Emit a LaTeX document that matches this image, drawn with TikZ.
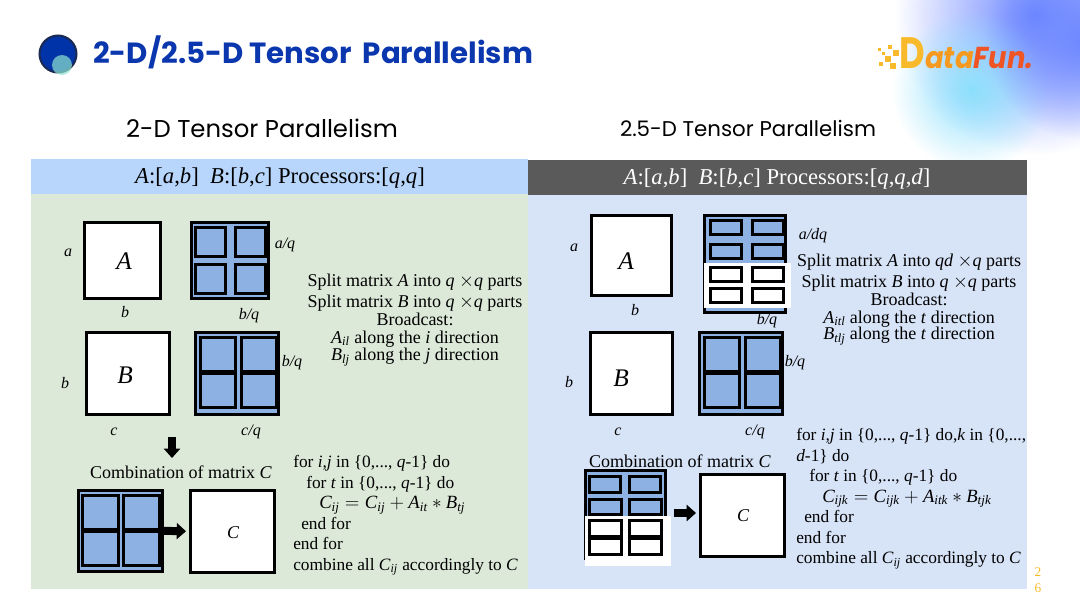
\documentclass[tikz,border=0pt]{standalone}
\usepackage{amsmath}
\usepackage{fontspec}
\setmainfont{Liberation Serif}
\newfontfamily\headfont{Poppins}
\usepackage{xcolor}
\usetikzlibrary{positioning,arrows.meta,fadings,calc}

\definecolor{titleblue}{HTML}{0A36AE}
\definecolor{dotdark}{HTML}{0033A8}
\definecolor{dotring}{HTML}{1C2A52}
\definecolor{dotteal}{HTML}{8FE3D0}
\definecolor{panelgreen}{HTML}{DCE9D9}
\definecolor{panelblue}{HTML}{D7E3F7}
\definecolor{headblue}{HTML}{B8D6FC}
\definecolor{headgrey}{HTML}{5A5A5A}
\definecolor{cellblue}{HTML}{8EB1E4}
\definecolor{pageyellow}{HTML}{F8B92B}
\definecolor{logoamber}{HTML}{F59A1E}
\definecolor{logored}{HTML}{EE5424}
\definecolor{blobblue}{HTML}{6C86FF}
\definecolor{blobcyan}{HTML}{8CE0FC}

\newcommand{\px}{0.75pt}
\newcommand{\vv}[1]{\textit{#1}}
\newcommand{\sbs}[2]{$\textit{#1}_{\textit{#2}}$}
\newcommand{\eqfont}{\fontsize{14}{15.4}\selectfont}
\tikzfading[name=blobfade, inner color=transparent!0, middle color=transparent!0,
            outer color=transparent!100]

\begin{document}
\begin{tikzpicture}[
  x=0.75pt, y=-0.75pt,
  every node/.style={font=\fontsize{13.5}{15.4}\selectfont, inner sep=0pt},
  mat/.style={draw, line width=2pt, fill=white, anchor=north west},
  gridbox/.style={draw, line width=2pt, fill=cellblue, anchor=north west},
  cell/.style={draw, line width=1.9pt, fill=cellblue, anchor=north west},
  wcell/.style={cell, fill=white},
  band/.style={fill=white, anchor=north west},
  lab/.style={font=\fontsize{12}{14}\selectfont\itshape},
  big/.style={font=\fontsize{19}{22}\selectfont\itshape},
  head/.style={font=\fontsize{17}{20}\selectfont},
  sub/.style={font=\headfont\fontsize{#1}{22}\selectfont},
  code/.style={align=left, anchor=north west, font=\fontsize{13}{15.4}\selectfont},
  blockarr/.style={line width=6pt, -{Triangle[length=7pt,width=12pt]}}
]
\useasboundingbox (0,0) rectangle (1080,607);

%% --- Corner glow and logo -------------------------------------
\begin{scope}
  \clip (0,0) rectangle (1080,607);
  \fill[blobblue, path fading=blobfade] (1035,15) circle (140);
  \fill[blobcyan, path fading=blobfade] (972,90) circle (80);
  \fill[blobblue, path fading=blobfade] (1085,40) circle (100);
\end{scope}
\foreach \dx/\dy/\ds in {879/49/1.5, 890/47/2, 883/53/1.5, 896/53/3, 888/59/3, 881/64/2, 893/66/3}
  \fill[pageyellow] (\dx-\ds,\dy-\ds) rectangle (\dx+\ds,\dy+\ds);
\node[anchor=base west, xscale=.8, text=pageyellow,
      font=\headfont\bfseries\fontsize{33}{33}\selectfont] (logoD) at (899,68) {D};
\node[anchor=base west, yscale=1.1,
      font=\headfont\bfseries\itshape\fontsize{20.6}{21}\selectfont] (logo) at (925,68)
  {\textcolor{logoamber}{ata}\textcolor{logored}{Fun.}};

%% --- Title ----------------------------------------------------
\fill[dotdark, draw=dotring, line width=1.5pt] (58,54) circle (18.5);
\fill[dotteal, opacity=.7] (62,65) circle (10);
\node[anchor=west, text=titleblue, font=\headfont\bfseries\fontsize{21.9}{26}\selectfont] (title) at (93,52)
  {2-D/2.5-D Tensor\, Parallelism};
\node[sub=18.25] (subL) at (262,128) {2-D Tensor Parallelism};
\node[sub=16] (subR) at (748,128) {2.5-D Tensor Parallelism};

%% --- Panels ---------------------------------------------------
\fill[headblue]   (31,159)  rectangle (528,194);
\fill[headgrey]   (528,160) rectangle (1027,195);
\fill[panelgreen] (31,194)  rectangle (528,589);
\fill[panelblue]  (528,195) rectangle (1027,589);
\node[head] (headL) at (280,178)
  {\vv{A}:[\vv{a},\vv{b}]\ \ \vv{B}:[\vv{b},\vv{c}] Processors:[\vv{q},\vv{q}]};
\node[head, text=white] (headR) at (777,179)
  {\vv{A}:[\vv{a},\vv{b}]\ \ \vv{B}:[\vv{b},\vv{c}] Processors:[\vv{q},\vv{q},\vv{d}]};

%% --- Left: source matrices ------------------------------------
\node[mat, minimum width=76*\px, minimum height=76*\px] (matAL) at (83,221) {};
\node[mat, minimum width=83*\px, minimum height=82*\px] (matBL) at (85,331) {};
\node[big] at (124,261) {A};
\node[big] at (125,375) {B};
\node[lab] at (68,253) {a};
\node[lab] at (125,312) {b};
\node[lab] at (65,383) {b};
\node[lab] at (114,432) {c};

%% --- Left: split A --------------------------------------------
\node[gridbox, minimum width=77*\px, minimum height=76*\px] (gridAL) at (190,221) {};
\foreach \cx/\cy in {194/226, 234/226, 194/263, 234/263}
  \node[cell, minimum width=30*\px, minimum height=29*\px] at (\cx,\cy) {};
\node[lab] at (285,245) {a/q};
\node[lab] at (249,316) {b/q};

%% --- Left: split B --------------------------------------------
\node[gridbox, minimum width=83*\px, minimum height=82*\px] (gridBL) at (194,331) {};
\foreach \cx/\cy in {199/336, 240/336, 199/372, 240/372}
  \node[cell, minimum width=35*\px, minimum height=34*\px] at (\cx,\cy) {};
\node[lab] at (292,363) {b/q};
\node[lab] at (251,432) {c/q};

%% --- Left: text -----------------------------------------------
\node[align=center, anchor=north] (splitL) at (415,274)
  {Split matrix \vv{A} into \vv{q} $\times$\vv{q} parts\\[-0.1pt]
   Split matrix \vv{B} into \vv{q} $\times$\vv{q} parts\\[-1.7pt]
   Broadcast:\\[-2.2pt]
   \sbs{A}{il} along the \vv{i} direction\\[-2.2pt]
   \sbs{B}{lj} along the \vv{j} direction};
\node[code] (codeL) at (293,455)
  {for \vv{i,j} in \{0,..., \vv{q}-1\} do\\
   \hspace*{9.75pt}for \vv{t} in \{0,..., \vv{q}-1\} do\\
   \hspace*{19.5pt}{\eqfont $\textit{C}_{\textit{ij}} = \textit{C}_{\textit{ij}} + \textit{A}_{\textit{it}} * \textit{B}_{\textit{tj}}$}\\
   \hspace*{6pt}end for\\
   end for\\
   combine all \sbs{C}{ij} accordingly to \vv{C}};

%% --- Left: combination ----------------------------------------
\coordinate (dwnTop) at (172,437);
\coordinate (dwnEnd) at (172,458);
\draw[blockarr] (dwnTop) -- (dwnEnd);
\node (combL) at (181,472) {Combination of matrix \vv{C}};
\node[gridbox, minimum width=84*\px, minimum height=81*\px] (gridCL) at (77,489) {};
\foreach \cx/\cy in {81/494, 122/494, 81/530, 122/530}
  \node[cell, minimum width=36*\px, minimum height=34*\px] at (\cx,\cy) {};
\node[mat, minimum width=84*\px, minimum height=82*\px] (matCL) at (189,489) {};
\node[font=\fontsize{13.5}{15}\selectfont\itshape] at (233,533) {C};
\draw[blockarr, shorten >=3*\px] (gridCL.east) -- (matCL.west);

%% --- Right: source matrices -----------------------------------
\node[mat, minimum width=80*\px, minimum height=80*\px] (matAR) at (590,214) {};
\node[mat, minimum width=82*\px, minimum height=82*\px] (matBR) at (589,331) {};
\node[big] at (626,261) {A};
\node[big] at (621,378) {B};
\node[lab] at (574,248) {a};
\node[lab] at (635,310) {b};
\node[lab] at (569,382) {b};
\node[lab] at (618,432) {c};

%% --- Right: split A -------------------------------------------
\node[gridbox, minimum width=81*\px, minimum height=97*\px] (gridAR) at (703,214) {};
\node[band, minimum width=87*\px, minimum height=45*\px] (bandAR) at (704,263) {};
\foreach \cx/\cy in {709/219, 751/219, 709/243, 751/243}
  \node[cell, minimum width=31*\px, minimum height=14*\px] at (\cx,\cy) {};
\foreach \cx/\cy in {709/266, 751/266, 709/287, 751/287}
  \node[wcell, minimum width=31*\px, minimum height=14*\px] at (\cx,\cy) {};
\node[lab] at (813,236) {a/dq};
\node[lab] at (767,321) {b/q};

%% --- Right: split B -------------------------------------------
\node[gridbox, minimum width=83*\px, minimum height=82*\px] (gridBR) at (698,331) {};
\foreach \cx/\cy in {703/336, 744/336, 703/372, 744/372}
  \node[cell, minimum width=35*\px, minimum height=34*\px] at (\cx,\cy) {};
\node[lab] at (795,363) {b/q};
\node[lab] at (755,432) {c/q};

%% --- Right: text ----------------------------------------------
\node[align=center, anchor=north] (splitR) at (909,254)
  {Split matrix \vv{A} into \vv{qd} $\times$\vv{q} parts\\[-0.1pt]
   Split matrix \vv{B} into \vv{q} $\times$\vv{q} parts\\[-1.7pt]
   Broadcast:\\[-2.2pt]
   \sbs{A}{itl} along the \vv{t} direction\\[-2.8pt]
   \sbs{B}{tlj} along the \vv{t} direction};
\node[code] (codeR) at (796,428)
  {for \vv{i,j} in \{0,..., \vv{q}-1\} do,\vv{k} in \{0,...,\\
   \vv{d}-1\} do\\
   \hspace*{9.75pt}for \vv{t} in \{0,..., \vv{q}-1\} do\\
   \hspace*{19.5pt}{\eqfont $\textit{C}_{\textit{ijk}} = \textit{C}_{\textit{ijk}} + \textit{A}_{\textit{itk}} * \textit{B}_{\textit{tjk}}$}\\
   \hspace*{6pt}end for\\
   end for\\
   combine all \sbs{C}{ij} accordingly to \vv{C}};

%% --- Right: combination ---------------------------------------
\node (combR) at (680,461) {Combination of matrix \vv{C}};
\node[gridbox, minimum width=80*\px, minimum height=88*\px] (gridCR) at (584,469) {};
\node[band, minimum width=86*\px, minimum height=50*\px] (bandCR) at (585,516) {};
\foreach \cx/\cy in {588/475, 628/475}
  \node[cell, minimum width=31*\px, minimum height=16*\px] at (\cx,\cy) {};
\foreach \cx/\cy in {588/498, 628/498}
  \node[cell, minimum width=32*\px, minimum height=15*\px] at (\cx,\cy) {};
\foreach \cx/\cy in {588/519, 628/519, 588/537, 628/537}
  \node[wcell, minimum width=32*\px, minimum height=16*\px] at (\cx,\cy) {};
\node[mat, minimum width=84*\px, minimum height=82*\px] (matCR) at (699,473) {};
\node[font=\fontsize{13.5}{15}\selectfont\itshape] at (743,516) {C};
\coordinate (arrR) at (674,513);
\draw[blockarr, shorten >=3*\px] (arrR) -- (arrR -| matCR.west);

%% --- Page number ----------------------------------------------
\node[text=pageyellow, align=center, font=\fontsize{10}{12}\selectfont] (pageno) at (1038,580) {2\\6};

\end{tikzpicture}
\end{document}
